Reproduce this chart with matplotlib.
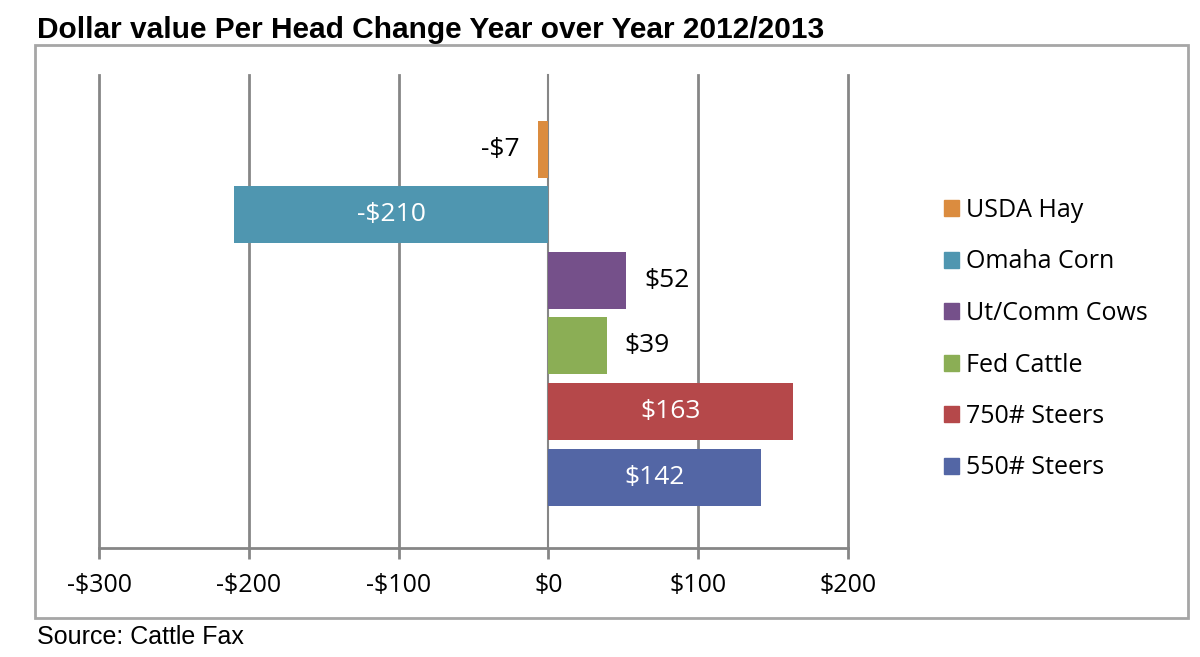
import matplotlib.pyplot as plt
from matplotlib.patches import Rectangle, Patch

categories = ['550# Steers', '750# Steers', 'Fed Cattle', 'Ut/Comm Cows', 'Omaha Corn', 'USDA Hay']
values = [142, 163, 39, 52, -210, -7]
colors = ['#5366A5', '#B5484A', '#8BAE55', '#75508A', '#4F96B0', '#DB8C3F']
inside = [True, True, False, False, True, False]
xticks = [-300, -200, -100, 0, 100, 200]
xlabels = ['-$300', '-$200', '-$100', '$0', '$100', '$200']

fig = plt.figure(figsize=(12, 6.57), dpi=100)
fig.patches.append(Rectangle((35/1200, 1-618/657), 1153/1200, 573/657, transform=fig.transFigure,
                             fill=False, edgecolor='#A6A6A6', linewidth=2))
fig.text(37/1200, 1-30/657, 'Dollar value Per Head Change Year over Year 2012/2013',
         fontsize=21.5, fontweight='bold', family='Liberation Sans', va='center')
fig.text(37/1200, 1-637/657, 'Source: Cattle Fax', fontsize=18, family='Liberation Sans', va='center')

ax = fig.add_axes([99/1200, 1-548/657, 749/1200, 473/657])
ypos = list(range(len(categories)))
ax.barh(ypos, values, height=0.87, color=colors, zorder=3)
for y, v, ins in zip(ypos, values, inside):
    lab = ('-$%d' % -v) if v < 0 else ('$%d' % v)
    if ins:
        ax.text(v / 2, y, lab, color='white', ha='center', va='center', fontsize=19, family='Open Sans', zorder=4)
    else:
        off = 12 if v > 0 else -12
        ax.text(v + off, y, lab, color='black', ha='left' if v > 0 else 'right', va='center',
                fontsize=19, family='Open Sans', zorder=4)
ax.set_xlim(-300, 200)
ax.set_ylim(-1.08, 6.13)
ax.set_xticks(xticks)
ax.set_xticklabels(xlabels, fontsize=18, family='Open Sans')
ax.set_yticks([])
for t in xticks:
    ax.axvline(t, color='#868686', linewidth=2 if t != 0 else 1.5, zorder=0 if t != 0 else 2, clip_on=False)
for s in ['top', 'right', 'left']:
    ax.spines[s].set_visible(False)
ax.spines['bottom'].set_color('#868686')
ax.spines['bottom'].set_linewidth(2)
ax.tick_params(axis='x', direction='out', length=8, width=2, color='#868686', pad=10)

handles = [Patch(color=c, label=l) for c, l in zip(colors[::-1], categories[::-1])]
fig.legend(handles=handles, loc='upper left', bbox_to_anchor=(934/1200, 1-188/657), frameon=False,
           prop={'family': 'Open Sans', 'size': 18}, handlelength=0.6, handleheight=0.6,
           handletextpad=0.3, labelspacing=1.06, borderaxespad=0)
fig.savefig('out.png', dpi=100)
